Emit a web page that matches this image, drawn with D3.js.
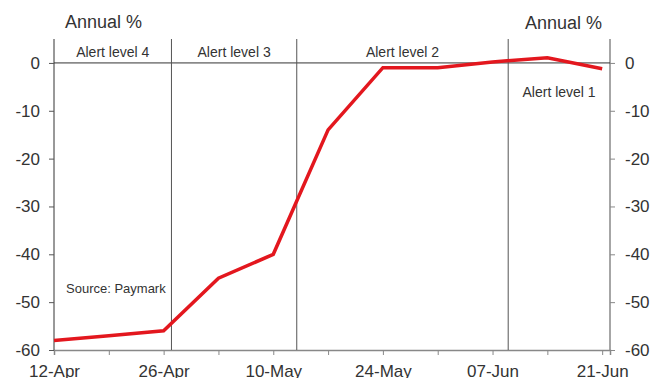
<!DOCTYPE html>
<html>
<head>
<meta charset="utf-8">
<script src="https://cdn.jsdelivr.net/npm/d3@7"></script>
<style>
  body { margin: 0; background: #fff; }
  svg { display: block; font-family: "Liberation Sans", Arial, sans-serif; }
</style>
</head>
<body>
<svg id="chart" width="654" height="378"></svg>
<script>
// --- Data ---
const dates = ["2020-04-12", "2020-04-19", "2020-04-26", "2020-05-03", "2020-05-10",
               "2020-05-17", "2020-05-24", "2020-05-31", "2020-06-07", "2020-06-14", "2020-06-21"];
const spending = [-58, -57, -56, -45, -40, -14, -1, -1, 0.2, 1.1, -1.2];
const alertDates = ["2020-04-27", "2020-05-13", "2020-06-09"];
const alertLabels = ["Alert level 4", "Alert level 3", "Alert level 2", "Alert level 1"];
const xTickDates = ["2020-04-12", "2020-04-26", "2020-05-10", "2020-05-24", "2020-06-07", "2020-06-21"];
const yTicks = [0, -10, -20, -30, -40, -50, -60];

const parse = d3.timeParse("%Y-%m-%d");
const data = dates.map((d, i) => ({ date: parse(d), value: spending[i] }));

// --- Layout ---
const margin = { top: 39, right: 44, bottom: 28, left: 54 };
const W = 654, H = 378;
const width = W - margin.left - margin.right;
const height = H - margin.top - margin.bottom;

const svg = d3.select("#chart");
const g = svg.append("g").attr("transform", `translate(${margin.left},${margin.top})`);

// --- Scales ---
const x = d3.scaleTime()
    .domain([parse("2020-04-12"), parse("2020-06-22")])
    .range([0, width]);
const y = d3.scaleLinear().domain([-60, 5]).range([height, 0]);

// plain hyphen for negatives, like the original
const yFmt = d => String(d);

// --- Bottom axis ---
const xAxis = d3.axisBottom(x)
    .tickValues(d3.timeDay.range(parse("2020-04-12"), parse("2020-06-22"), 7))
    .tickSize(5)
    .tickFormat(d => xTickDates.includes(d3.timeFormat("%Y-%m-%d")(d)) ? d3.timeFormat("%d-%b")(d) : "");
const xg = g.append("g").attr("transform", `translate(0,${height})`).call(xAxis);
xg.select(".domain").attr("stroke", "#888").attr("stroke-width", 1.5);
xg.selectAll(".tick line").attr("stroke", "#888");
xg.selectAll("text").attr("font-size", 17).attr("fill", "#333").attr("dy", "1.1em");

// --- Left axis ---
const yl = g.append("g").call(d3.axisLeft(y).tickValues(yTicks).tickSize(5).tickPadding(9).tickFormat(yFmt));
yl.select(".domain").attr("stroke", "#333").attr("d", `M0,0V${height}`);
yl.selectAll(".tick line").attr("stroke", "#555");
yl.selectAll("text").attr("font-size", 17).attr("fill", "#333");

// --- Right axis ---
const yr = g.append("g").attr("transform", `translate(${width},0)`)
    .call(d3.axisRight(y).tickValues(yTicks).tickSize(5).tickPadding(10).tickFormat(yFmt));
yr.select(".domain").attr("stroke", "#888").attr("stroke-width", 1.5).attr("d", `M0,0V${height}`);
yr.selectAll(".tick line").attr("stroke", "#888");
yr.selectAll("text").attr("font-size", 17).attr("fill", "#333");

// --- Zero line ---
g.append("line")
    .attr("x1", 0).attr("x2", width)
    .attr("y1", y(0)).attr("y2", y(0))
    .attr("stroke", "#333").attr("stroke-width", 1);

// --- Alert level lines ---
const alertX = alertDates.map(d => x(parse(d)));
alertX.forEach(ax => {
    g.append("line")
        .attr("x1", ax).attr("x2", ax)
        .attr("y1", 0).attr("y2", height)
        .attr("stroke", "#555").attr("stroke-width", 1);
});

// --- Alert labels ---
const bounds = [0, ...alertX, width];
alertLabels.forEach((lab, i) => {
    const cx = (bounds[i] + bounds[i + 1]) / 2;
    g.append("text")
        .attr("x", cx)
        .attr("y", i === 3 ? y(0) + 34 : y(0) - 6)
        .attr("text-anchor", "middle")
        .attr("font-size", 14)
        .attr("fill", "#333")
        .text(lab);
});

// --- Line ---
const line = d3.line().x(d => x(d.date)).y(d => y(d.value));
g.append("path")
    .datum(data)
    .attr("fill", "none")
    .attr("stroke", "#e3171e")
    .attr("stroke-width", 3.5)
    .attr("stroke-linejoin", "miter")
    .attr("d", line);

// --- Axis titles and source ---
svg.append("text").attr("x", 65).attr("y", 28)
    .attr("font-size", 18).attr("fill", "#333").text("Annual %");
svg.append("text").attr("x", 602).attr("y", 29).attr("text-anchor", "end")
    .attr("font-size", 18).attr("fill", "#333").text("Annual %");
svg.append("text").attr("x", 66).attr("y", 293)
    .attr("font-size", 13).attr("fill", "#333").text("Source: Paymark");
</script>
</body>
</html>
